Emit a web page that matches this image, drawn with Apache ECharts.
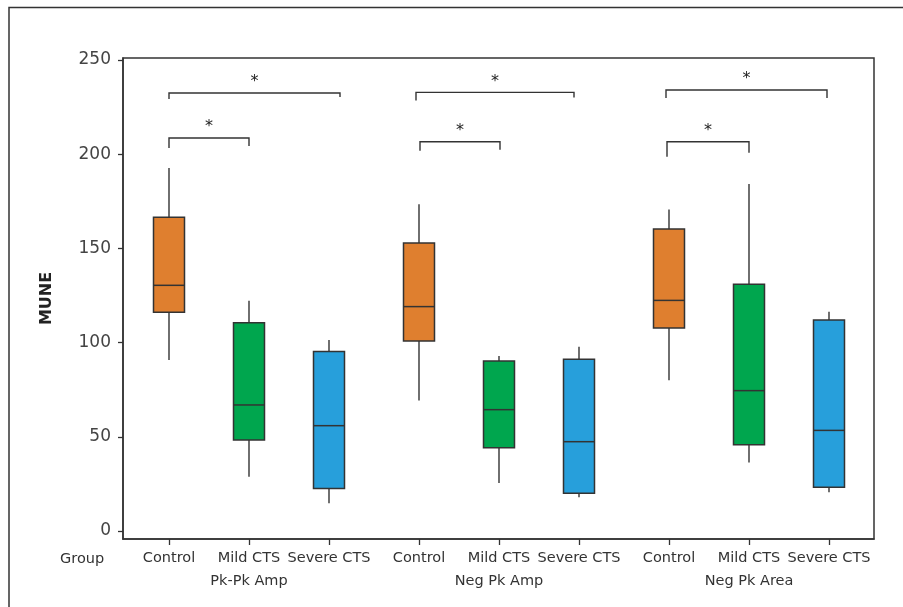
<!DOCTYPE html>
<html>
<head>
<meta charset="utf-8">
<script src="https://cdn.jsdelivr.net/npm/echarts@6/dist/echarts.min.js"></script>
<style>
html,body{margin:0;padding:0;background:#fff;}
#chart{width:903px;height:607px;}
</style>
</head>
<body>
<div id="chart"></div>
<script>
// ---- data ----
var groups = ['Pk-Pk Amp', 'Neg Pk Amp', 'Neg Pk Area'];
var categories = ['Control', 'Mild CTS', 'Severe CTS'];
var yTicks = [0, 50, 100, 150, 200, 250];
// each row: [min whisker, Q1, median, Q3, max whisker]
var pkPkAmp   = [[90.8, 116.1, 130.4, 166.5, 192.7], [28.8, 48.3, 66.9, 110.5, 122.2], [14.7, 22.5, 55.9, 95.3, 101.4]];
var negPkAmp  = [[69.2, 100.8, 119.1, 152.9, 173.4], [25.5, 44.2, 64.4, 90.2, 92.9], [17.9, 20.0, 47.4, 91.1, 97.8]];
var negPkArea = [[80.0, 107.7, 122.4, 160.3, 170.7], [36.3, 45.8, 74.5, 131.0, 184.2], [20.5, 23.2, 53.4, 112.0, 116.4]];
// significance brackets: [group index, from category, to category, level]
var brackets = [[0, 0, 2, 232.5], [0, 0, 1, 208.6], [1, 0, 2, 232.8], [1, 0, 1, 206.6], [2, 0, 2, 234.1], [2, 0, 1, 206.6]];
var sigLabel = '*';

// ---- layout / style ----
var colors = ['#DF7F2F', '#00A64E', '#279FDB'];
var groupStep = 3.125;
var boxWidthPx = 31;
var bracketLayout = [ // [dx left, dx right, tick left px, tick right px]
  [0, 11, 6, 4], [0, 0, 10, 8], [-3, -5, 8, 5], [1, 1, 9, 8], [-3, -2, 8, 8], [-2, 0, 15, 11]
];
var FONT = 'DejaVu Sans';
var INK = '#333';

var measures = [pkPkAmp, negPkAmp, negPkArea];
function pos(g, c) { return g * groupStep + c; }

var boxData = [];
var xPositions = [];
var xNames = {};
measures.forEach(function (m, g) {
  m.forEach(function (v, c) {
    var x = pos(g, c);
    boxData.push({ value: [x, v[0], v[1], v[2], v[3], v[4]], itemStyle: { color: colors[c] } });
    xPositions.push(x);
    xNames[x] = categories[c];
  });
});
var groupPositions = [];
var groupNames = {};
groups.forEach(function (name, g) { var x = pos(g, 1); groupPositions.push(x); groupNames[x] = name; });

var bracketData = brackets.map(function (b, i) {
  return [pos(b[0], b[1]), pos(b[0], b[2]), b[3], i];
});

var chart = echarts.init(document.getElementById('chart'));
chart.setOption({
  animation: false,
  backgroundColor: '#fff',
  textStyle: { fontFamily: FONT },
  grid: { left: 123, top: 58, right: 29, bottom: 68, show: true, borderColor: INK, borderWidth: 1.5, backgroundColor: 'transparent' },
  xAxis: [{
    type: 'value', min: -0.575, max: 8.8125, position: 'bottom',
    splitLine: { show: false },
    axisLine: { show: true, onZero: false, lineStyle: { color: INK, width: 1.5 } },
    axisTick: { show: true, customValues: xPositions, length: 6, lineStyle: { color: INK, width: 1.3 } },
    axisLabel: { customValues: xPositions, margin: 12, color: '#333', fontSize: 14.5, fontFamily: FONT,
      formatter: function (v) { return xNames[v] || ''; } }
  }, {
    type: 'value', min: -0.575, max: 8.8125, position: 'bottom', offset: 0,
    splitLine: { show: false }, axisLine: { show: false, onZero: false }, axisTick: { show: false },
    axisLabel: { customValues: groupPositions, margin: 35, color: '#333', fontSize: 14.5, fontFamily: FONT,
      formatter: function (v) { return groupNames[v] || ''; } }
  }],
  yAxis: {
    type: 'value', min: -4.25, max: 251.06,
    name: 'MUNE', nameLocation: 'middle', nameGap: 68, nameRotate: 90,
    nameTextStyle: { fontSize: 16, fontWeight: 'bold', color: '#222', fontFamily: FONT },
    splitLine: { show: false },
    axisLine: { show: true, onZero: false, lineStyle: { color: INK, width: 1.5 } },
    axisTick: { show: true, customValues: yTicks, length: 5, lineStyle: { color: INK, width: 1.3 } },
    axisLabel: { customValues: yTicks, margin: 12, color: '#444', fontSize: 17, fontFamily: FONT }
  },
  graphic: [
    { type: 'polyline', shape: { points: [[9, 607], [9, 7.5], [903, 7.5]] }, style: { stroke: INK, lineWidth: 1.5, fill: null }, silent: true },
    { type: 'text', left: 60, top: 552, style: { text: 'Group', font: '14.5px "DejaVu Sans"', fill: '#333' }, silent: true }
  ],
  series: [{
    type: 'custom', xAxisIndex: 0, yAxisIndex: 0,
    data: boxData,
    encode: { x: 0, y: [1, 2, 3, 4, 5] },
    renderItem: function (params, api) {
      var x = api.value(0);
      var pLo = api.coord([x, api.value(1)]);
      var pQ1 = api.coord([x, api.value(2)]);
      var pMd = api.coord([x, api.value(3)]);
      var pQ3 = api.coord([x, api.value(4)]);
      var pHi = api.coord([x, api.value(5)]);
      var cx = pLo[0], hw = boxWidthPx / 2;
      var fill = api.visual('color');
      var ls = { stroke: INK, lineWidth: 1.4 };
      return { type: 'group', children: [
        { type: 'line', shape: { x1: cx, y1: pHi[1], x2: cx, y2: pQ3[1] }, style: ls },
        { type: 'line', shape: { x1: cx, y1: pQ1[1], x2: cx, y2: pLo[1] }, style: ls },
        { type: 'rect', shape: { x: cx - hw, y: pQ3[1], width: boxWidthPx, height: pQ1[1] - pQ3[1] }, style: { fill: fill, stroke: INK, lineWidth: 1.5 } },
        { type: 'line', shape: { x1: cx - hw, y1: pMd[1], x2: cx + hw, y2: pMd[1] }, style: { stroke: INK, lineWidth: 1.5 } }
      ] };
    }
  }, {
    type: 'custom', xAxisIndex: 0, yAxisIndex: 0,
    data: bracketData,
    encode: { x: [0, 1], y: 2 },
    renderItem: function (params, api) {
      var L = bracketLayout[api.value(3)];
      var a = api.coord([api.value(0), api.value(2)]);
      var b = api.coord([api.value(1), api.value(2)]);
      var x1 = a[0] + L[0], x2 = b[0] + L[1], y = a[1];
      return { type: 'group', children: [
        { type: 'polyline', shape: { points: [[x1, y + L[2]], [x1, y], [x2, y], [x2, y + L[3]]] }, style: { stroke: INK, lineWidth: 1.4, fill: null } },
        { type: 'text', style: { text: sigLabel, x: (x1 + x2) / 2, y: y - 11, align: 'center', verticalAlign: 'middle', font: '16px "DejaVu Sans"', fill: '#222' } }
      ] };
    }
  }]
});
</script>
</body>
</html>
